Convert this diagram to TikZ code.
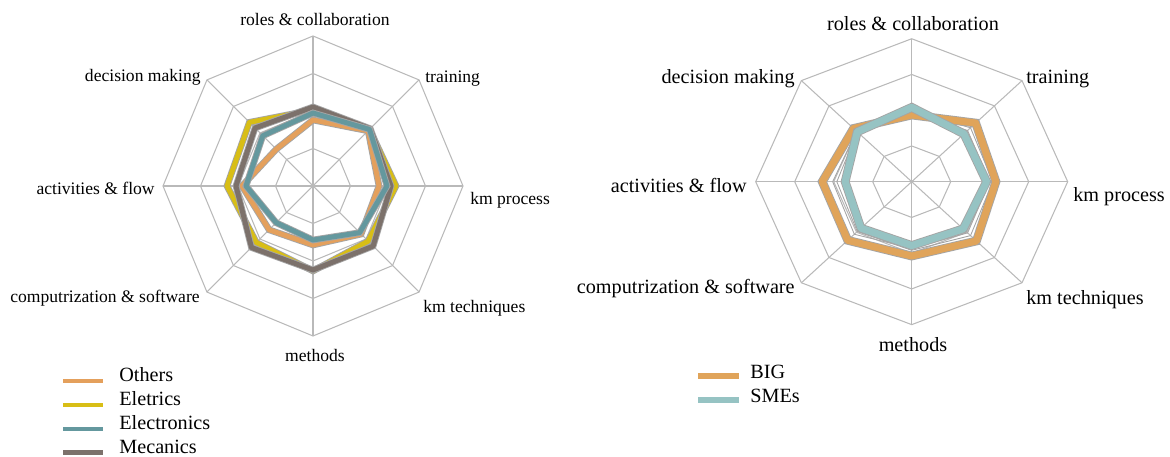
\documentclass[tikz,border=0pt]{standalone}
\usepackage{fontspec}
\setmainfont{Liberation Serif}

\definecolor{gridgray}{RGB}{185,185,185}
\definecolor{halogray}{RGB}{165,165,165}
\definecolor{othersC}{RGB}{228,160,92}
\definecolor{eletricsC}{RGB}{216,190,22}
\definecolor{electronicsC}{RGB}{100,152,158}
\definecolor{mecanicsC}{RGB}{124,113,107}
\definecolor{bigC}{RGB}{224,164,90}
\definecolor{smesC}{RGB}{150,195,195}

\tikzset{
  gridline/.style={draw=gridgray, line width=0.6pt},
  serieL/.style={draw=#1, line width=2.8pt, line join=round,
    preaction={draw=halogray, line width=3.8pt}},
  serieR/.style={draw=#1, line width=4pt, line join=round,
    preaction={draw=halogray, line width=5pt}},
  thingray/.style={draw=halogray, line width=0.5pt, line join=round},
  lblL/.style={font=\fontsize{10}{12}\selectfont, inner sep=0pt},
  lblR/.style={font=\fontsize{11.5}{13}\selectfont, inner sep=0pt},
  legtext/.style={font=\fontsize{11.5}{13}\selectfont, inner sep=0pt, anchor=west},
  swatch/.style={line width=#1},
}

\begin{document}
\begin{tikzpicture}[x=0.2mm, y=0.2mm]
\useasboundingbox (0,0) rectangle (1170,457);

    % left radar: sectors of the firms
    \begin{scope}[shift={(313,271)}]
        \foreach \r in {37.5,75,112.5,150}
            \draw[gridline] (90:\r) -- (45:\r) -- (0:\r) -- (-45:\r) -- (-90:\r) -- (-135:\r) -- (180:\r) -- (135:\r) -- cycle;
        \foreach \a in {0,45,90,135}
            \draw[gridline] (\a:150) -- (\a+180:150);

    % the four sectors
    \draw[serieL=othersC] (90:66) -- (45:78) -- (0:66) -- (-45:68) -- (-90:59) -- (-135:62) -- (180:71) -- (135:52) -- cycle;
    \draw[serieL=eletricsC] (90:76) -- (45:80) -- (0:83) -- (-45:78) -- (-90:85) -- (-135:80) -- (180:86) -- (135:90) -- cycle;
    \draw[serieL=mecanicsC] (90:79) -- (45:81) -- (0:78) -- (-45:85) -- (-90:84) -- (-135:87) -- (180:77) -- (135:82) -- cycle;
    \draw[serieL=electronicsC] (90:73) -- (45:80) -- (0:74) -- (-45:66) -- (-90:54) -- (-135:52) -- (180:67) -- (135:71) -- cycle;
    \end{scope}

    % left axis labels
    \node[lblL] (roleL) at (315,437) {roles \& collaboration};
    \node[lblL, anchor=west] (trainL) at (425,378) {training};
    \node[lblL, anchor=west] (procL) at (470,257) {km process};
    \node[lblL, anchor=west] (techL) at (423,149) {km techniques};
    \node[lblL] (methL) at (315,102) {methods};
    \node[lblL, anchor=east] (compL) at (200,159) {computrization \& software};
    \node[lblL, anchor=east] (actL) at (155,269) {activities \& flow};
    \node[lblL, anchor=east] (decL) at (201,380) {decision making};

    % left legend
    \node[legtext] (legOthers) at (119,82) {Others};
    \node[legtext] (legEletrics) at (119,58) {Eletrics};
    \node[legtext] (legElectronics) at (119,34) {Electronics};
    \node[legtext] (legMecanics) at (119,10) {Mecanics};
    \coordinate (swO) at (63,76);
    \coordinate (swE) at (63,52);
    \coordinate (swN) at (63,28);
    \coordinate (swM) at (63,4.5);
    \draw[swatch=2.6pt, othersC] (swO) -- ++(40,0);
    \draw[swatch=2.6pt, eletricsC] (swE) -- ++(40,0);
    \draw[swatch=2.6pt, electronicsC] (swN) -- ++(40,0);
    \draw[swatch=2.6pt, mecanicsC] (swM) -- ++(40,0);

    % right radar: big firms against SMEs
    \begin{scope}[shift={(911.7,275.3)}, xscale=1.04, yscale=0.953]
        \foreach \r in {37.5,75,112.5,150}
            \draw[gridline] (90:\r) -- (45:\r) -- (0:\r) -- (-45:\r) -- (-90:\r) -- (-135:\r) -- (180:\r) -- (135:\r) -- cycle;
        \foreach \a in {0,45,90,135}
            \draw[gridline] (\a:150) -- (\a+180:150);

    \draw[thingray] (90:74) -- (45:80) -- (0:78) -- (-45:80) -- (-90:72) -- (-135:74) -- (180:72) -- (135:74) -- cycle;
    \draw[thingray] (90:72) -- (45:76) -- (0:75) -- (-45:76) -- (-90:70) -- (-135:78) -- (180:76) -- (135:75) -- cycle;
    \draw[serieR=bigC] (90:70) -- (45:87) -- (0:81) -- (-45:88) -- (-90:78) -- (-135:87) -- (180:86) -- (135:79) -- cycle;
    \draw[serieR=smesC] (90:78) -- (45:71) -- (0:72) -- (-45:70) -- (-90:67) -- (-135:69) -- (180:64) -- (135:74) -- cycle;
    \end{scope}

    % right axis labels
    \node[lblR] (roleR) at (913,433) {roles \& collaboration};
    \node[lblR, anchor=west] (trainR) at (1026,378) {training};
    \node[lblR, anchor=west] (procR) at (1073,260) {km process};
    \node[lblR, anchor=west] (techR) at (1026,157) {km techniques};
    \node[lblR] (methR) at (913,112) {methods};
    \node[lblR, anchor=east] (compR) at (795,168) {computrization \& software};
    \node[lblR, anchor=east] (actR) at (747,272) {activities \& flow};
    \node[lblR, anchor=east] (decR) at (795,378) {decision making};

    % right legend
    \node[legtext] (legBig) at (750,85) {BIG};
    \node[legtext] (legSmes) at (750,61) {SMEs};
    \coordinate (swB) at (698,81);
    \coordinate (swS) at (698,57);
    \draw[swatch=3.2pt, bigC] (swB) -- ++(41,0);
    \draw[swatch=3.2pt, smesC] (swS) -- ++(41,0);

\end{tikzpicture}
\end{document}
